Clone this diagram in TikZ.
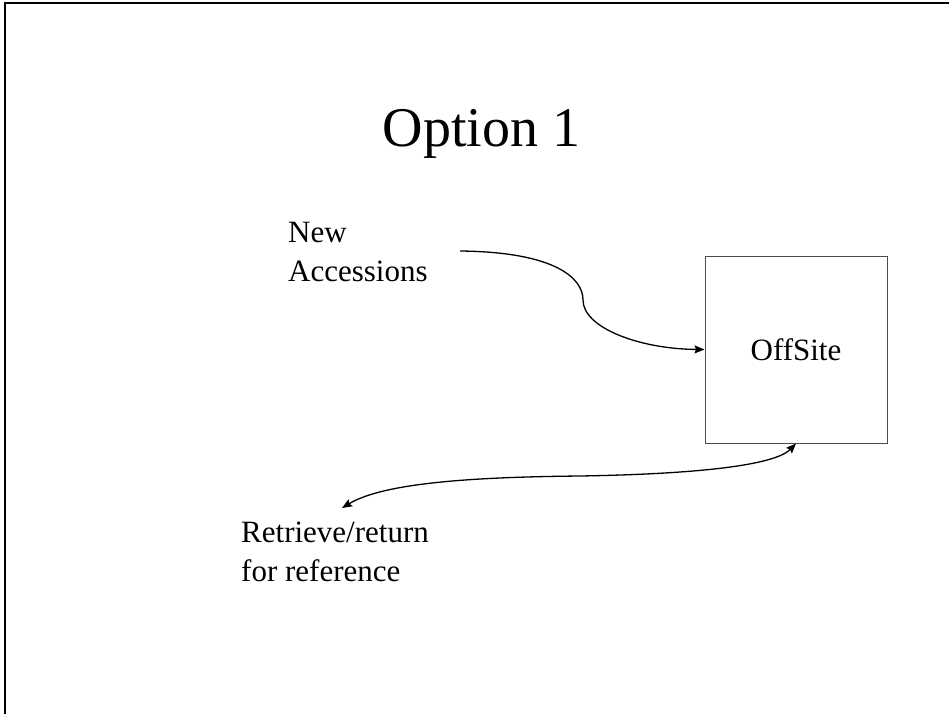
\documentclass[tikz,border=0pt]{standalone}
\usepackage{fontspec}
\setmainfont{Liberation Serif}
\usetikzlibrary{arrows.meta}

\tikzset{
  frameline/.style={line width=2.4pt, black},
  sitebox/.style={draw=black!70, line width=1pt, minimum width=182pt, minimum height=187pt,
                  inner sep=0pt, font=\fontsize{31}{39}\selectfont},
  label/.style={align=left, anchor=north west, inner sep=0pt, font=\fontsize{31}{39}\selectfont},
  tip/.style={Stealth[length=10pt,width=8pt,inset=1.5pt]},
  flow/.style={line width=1.3pt, -{Stealth[length=10pt,width=8pt,inset=1.5pt]}},
  twoway/.style={line width=1.3pt, {Stealth[length=10pt,width=8pt,inset=1.5pt]}-{Stealth[length=10pt,width=8pt,inset=1.5pt]}},
}

\begin{document}
\begin{tikzpicture}[x=1pt, y=-1pt]
  \useasboundingbox (0,0) rectangle (949,714);

  % slide frame: top and left edges
  \draw[frameline] (949,3) -- (5,3) -- (5,714);

  % title
  \node[anchor=base, inner sep=0pt, font=\fontsize{56}{60}\selectfont] (title) at (481.5,147) {Option 1};

  % storage site
  \node[sitebox] (offsite) at (796,349.5) {OffSite};

  % labels
  \node[label] (newacc) at (288,222) {New\\Accessions};
  \node[label] (retrieve) at (241,521.5) {Retrieve/return\\for reference};

  % free ends of the connectors
  \coordinate (accstart) at (460,251);
  \coordinate (refend) at (342,508);

  % incoming accessions
  \draw[flow] (accstart) .. controls (555,252) and (583,278) .. (583,300)
                         .. controls (583,328) and (640,349) .. (offsite.west);

  % retrieval and return
  \draw[twoway] (refend) .. controls (385,482) and (480,477) .. (580,476)
                         .. controls (700,474) and (775,465) .. (offsite.south);
\end{tikzpicture}
\end{document}
